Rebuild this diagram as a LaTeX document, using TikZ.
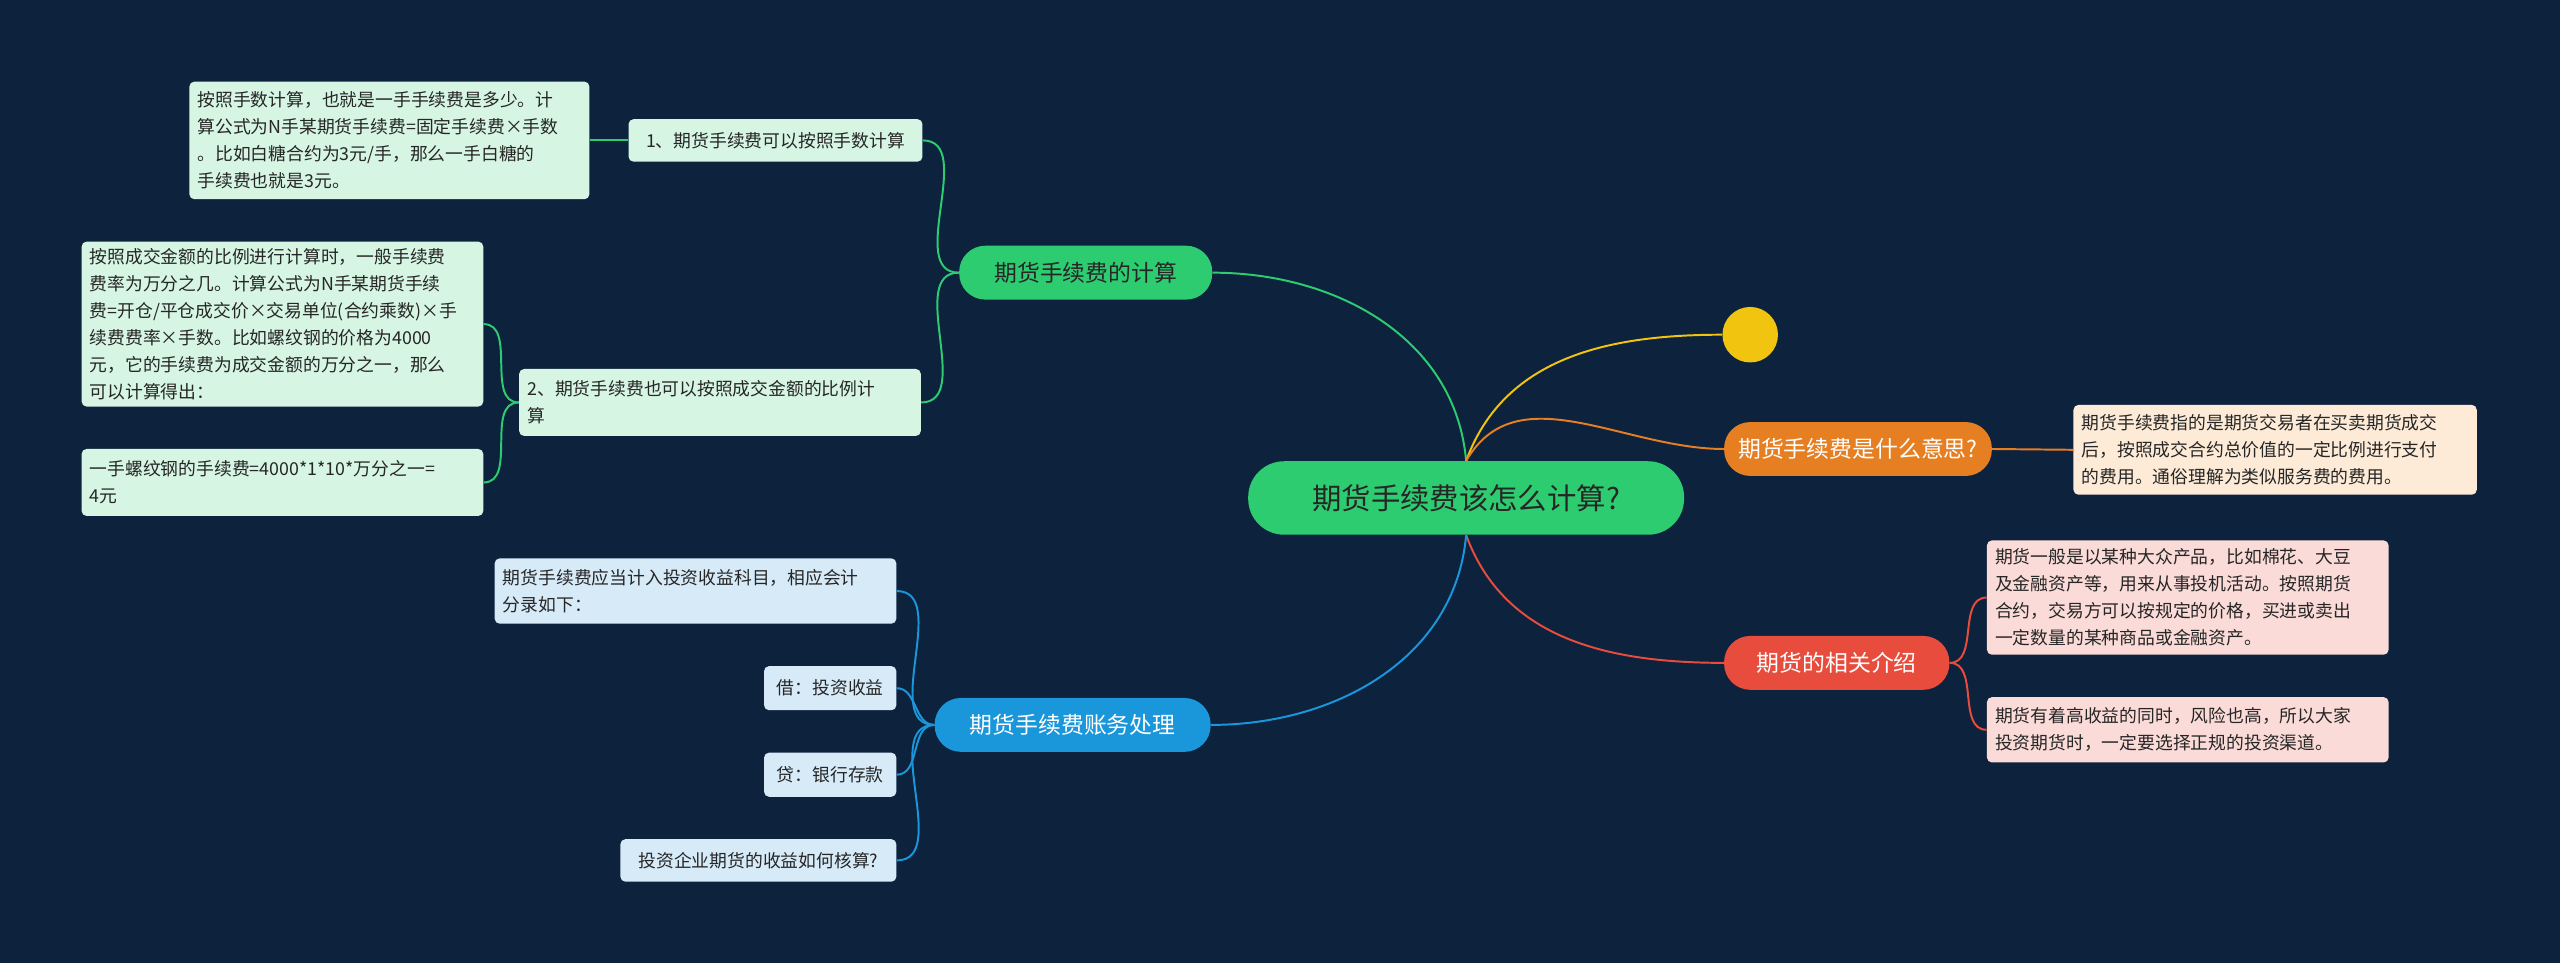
\documentclass[tikz,border=0pt]{standalone}
\usepackage{fontspec}
\setmainfont{Noto Sans CJK SC}
\begin{document}
\begin{tikzpicture}[x=1pt,y=-1pt,
  leaf/.style={rounded corners=3pt,inner sep=0pt,align=left,font=\fontsize{10.9}{16.5}\selectfont,text=black!85},
  br/.style={rounded corners=16pt,inner sep=0pt,font=\fontsize{14}{16}\selectfont},
  ln/.style={line width=1.2pt}]
\fill[color={rgb,255:red,13;green,34;blue,61}] (0,0) rectangle (1568,590);
\useasboundingbox (0,0) rectangle (1568,590);
\definecolor{gr}{RGB}{46,204,113}
\definecolor{gl}{RGB}{214,245,227}
\definecolor{og}{RGB}{230,126,34}
\definecolor{ol}{RGB}{253,235,215}
\definecolor{rd}{RGB}{231,76,60}
\definecolor{rl}{RGB}{250,219,216}
\definecolor{bl}{RGB}{26,150,219}
\definecolor{bll}{RGB}{214,234,248}
\definecolor{yl}{RGB}{241,196,15}
% center
\node[br,fill=gr,rounded corners=22pt,minimum width=267,minimum height=45,font=\fontsize{18}{20}\selectfont,text=black!85] (c) at (898,305) {期货手续费该怎么计算?};
\node[br,fill=gr,minimum width=155,minimum height=33,text=black!85] (g) at (665,167) {期货手续费的计算};
\node[circle,fill=yl,minimum size=34,inner sep=0] (y) at (1072,205) {};
\node[br,fill=og,minimum width=164,minimum height=33,text=white] (o) at (1138,275) {期货手续费是什么意思?};
\node[br,fill=rd,minimum width=138,minimum height=33,text=white] (r) at (1125,406) {期货的相关介绍};
\node[br,fill=bl,minimum width=169,minimum height=33,text=white] (b) at (657,444) {期货手续费账务处理};
% green subs
\node[leaf,fill=gl,minimum width=180,minimum height=26] (g1) at (475,86) {1、期货手续费可以按照手数计算};
\node[leaf,fill=gl,minimum width=245,minimum height=72] (g1a) at (238.5,86) {\begin{minipage}{235pt}按照手数计算，也就是一手手续费是多少。计\\算公式为N手某期货手续费=固定手续费×手数\\。比如白糖合约为3元/手，那么一手白糖的\\手续费也就是3元。\end{minipage}};
\node[leaf,fill=gl,minimum width=246,minimum height=41] (g2) at (441,246.5) {\begin{minipage}{236pt}2、期货手续费也可以按照成交金额的比例计\\算\end{minipage}};
\node[leaf,fill=gl,minimum width=246,minimum height=101] (g2a) at (173,198.5) {\begin{minipage}{236pt}按照成交金额的比例进行计算时，一般手续费\\费率为万分之几。计算公式为N手某期货手续\\费=开仓/平仓成交价×交易单位(合约乘数)×手\\续费费率×手数。比如螺纹钢的价格为4000\\元，它的手续费为成交金额的万分之一，那么\\可以计算得出：\end{minipage}};
\node[leaf,fill=gl,minimum width=246,minimum height=41] (g2b) at (173,295.5) {\begin{minipage}{236pt}一手螺纹钢的手续费=4000*1*10*万分之一=\\4元\end{minipage}};
% orange leaf
\node[leaf,fill=ol,minimum width=247,minimum height=55] (oa) at (1393.5,275.5) {\begin{minipage}{237pt}期货手续费指的是期货交易者在买卖期货成交\\后，按照成交合约总价值的一定比例进行支付\\的费用。通俗理解为类似服务费的费用。\end{minipage}};
% red leaves
\node[leaf,fill=rl,minimum width=246,minimum height=70] (ra) at (1340,366) {\begin{minipage}{236pt}期货一般是以某种大众产品，比如棉花、大豆\\及金融资产等，用来从事投机活动。按照期货\\合约，交易方可以按规定的价格，买进或卖出\\一定数量的某种商品或金融资产。\end{minipage}};
\node[leaf,fill=rl,minimum width=246,minimum height=40] (rb) at (1340,447) {\begin{minipage}{236pt}期货有着高收益的同时，风险也高，所以大家\\投资期货时，一定要选择正规的投资渠道。\end{minipage}};
% blue leaves
\node[leaf,fill=bll,minimum width=246,minimum height=40] (ba) at (426,362) {\begin{minipage}{236pt}期货手续费应当计入投资收益科目，相应会计\\分录如下：\end{minipage}};
\node[leaf,fill=bll,minimum width=81,minimum height=27] (bb) at (508.5,421.5) {借：投资收益};
\node[leaf,fill=bll,minimum width=81,minimum height=27] (bc) at (508.5,474.5) {贷：银行存款};
\node[leaf,fill=bll,minimum width=169,minimum height=26] (bd) at (464.5,527) {投资企业期货的收益如何核算?};
% connectors from center
\draw[ln,gr] (c.north) to[out=95,in=0] (g.east);
\draw[ln,yl] (c.north) to[out=70,in=180] (y.west);
\draw[ln,og] (c.north) to[out=60,in=180] (o.west);
\draw[ln,rd] (c.south) to[out=-70,in=180] (r.west);
\draw[ln,bl] (c.south) to[out=-95,in=0] (b.east);
% sub connectors
\foreach \t in {g1,g2} \draw[ln,gr] (g.west) to[out=180,in=0] (\t.east);
\foreach \t in {g1a} \draw[ln,gr] (g1.west) to[out=180,in=0] (\t.east);
\foreach \t in {g2a,g2b} \draw[ln,gr] (g2.west) to[out=180,in=0] (\t.east);
\draw[ln,og] (o.east) -- (oa.west);
\foreach \t in {ra,rb} \draw[ln,rd] (r.east) to[out=0,in=180] (\t.west);
\foreach \t in {ba,bb,bc,bd} \draw[ln,bl] (b.west) to[out=180,in=0] (\t.east);
\end{tikzpicture}
\end{document}
